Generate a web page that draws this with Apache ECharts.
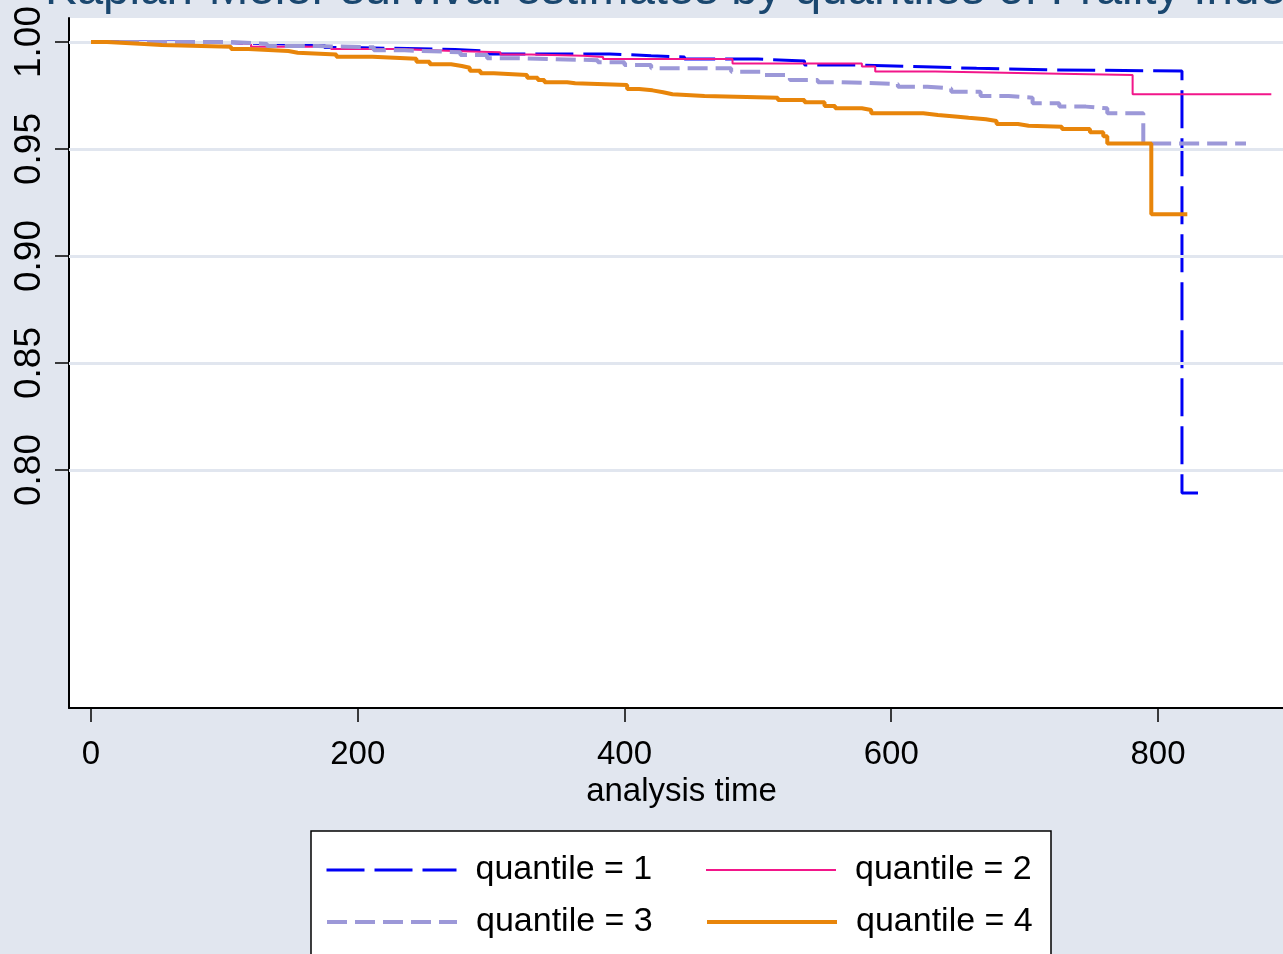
<!DOCTYPE html>
<html>
<head>
<meta charset="utf-8">
<script src="https://cdn.jsdelivr.net/npm/echarts@6.0.0/dist/echarts.min.js"></script>
<style>
  html, body { margin: 0; padding: 0; background: #e1e6ef; }
  #chart { width: 1283px; height: 954px; }
</style>
</head>
<body>
<div id="chart"></div>
<script>
// ---- Data ----
const titleText = 'Kaplan-Meier survival estimates by quantiles of Frailty Index';
const xTickValues = [0, 200, 400, 600, 800];
const yTickValues = [0.80, 0.85, 0.90, 0.95, 1.00];
const seriesNames = ['quantile = 1', 'quantile = 2', 'quantile = 3', 'quantile = 4'];

const q1Time = [0, 80, 145, 175, 195, 273, 294, 389, 420, 445, 500, 535, 574, 624, 664, 716, 818, 830];
const q1Surv = [1.0, 0.9991, 0.9986, 0.9974, 0.9965, 0.9958, 0.9944, 0.9936, 0.993, 0.992, 0.9911, 0.9893, 0.9884, 0.9877, 0.9870, 0.9864, 0.7893, 0.7893];

const q2Time = [0, 95, 120, 180, 232, 272, 307, 330, 369, 384, 481, 578, 588, 633, 705, 781, 885];
const q2Surv = [1.0, 0.9991, 0.9978, 0.9967, 0.9958, 0.9952, 0.9942, 0.9936, 0.993, 0.992, 0.990, 0.9885, 0.9862, 0.9854, 0.9846, 0.9756, 0.9756];

const q3Time = [0, 103, 132, 170, 212, 235, 277, 297, 319, 345, 380, 400, 420, 480, 503, 524, 545, 562, 605, 627, 645, 667, 688, 706, 726, 746, 762, 789, 866];
const q3Surv = [1.0, 0.9991, 0.9981, 0.9975, 0.9961, 0.9952, 0.9939, 0.9924, 0.992, 0.9915, 0.9905, 0.9893, 0.9877, 0.9861, 0.9846, 0.9822, 0.9812, 0.9804, 0.9791, 0.9783, 0.9768, 0.9748, 0.974, 0.9714, 0.9698, 0.969, 0.9667, 0.9526, 0.9526];

const q4Time = [0, 12, 40, 53, 105, 118, 148, 155, 184, 211, 244, 254, 270, 278, 284, 292, 302, 327, 335, 340, 357, 363, 402, 411, 421, 429, 436, 460, 515, 535, 550, 558, 578, 585, 624, 635, 650, 658, 671, 679, 695, 703, 728, 749, 759, 762, 795, 822];
const q4Surv = [1.0, 0.9991, 0.9986, 0.9978, 0.9967, 0.9958, 0.995, 0.9942, 0.9931, 0.9922, 0.9908, 0.9896, 0.9888, 0.988, 0.9866, 0.9854, 0.9846, 0.9833, 0.9822, 0.9812, 0.9807, 0.9799, 0.978, 0.9774, 0.9765, 0.9756, 0.9748, 0.974, 0.9729, 0.9718, 0.9701, 0.969, 0.9682, 0.9667, 0.9659, 0.9651, 0.9646, 0.9639, 0.9631, 0.9617, 0.9609, 0.9604, 0.9593, 0.9578, 0.956, 0.9526, 0.9195, 0.9195];

// ---- Build ----
function zip(t, s) { return t.map((v, i) => [v, s[i]]); }
const FONT = "'Liberation Sans', Arial, sans-serif";
const bg = '#e1e6ef';

const styles = [
  { color: '#0000f5', width: 3, type: [38, 10], dashOffset: 30 },
  { color: '#f2168a', width: 2, type: 'solid', dashOffset: 0 },
  { color: '#9c98d8', width: 4, type: [20, 8], dashOffset: 0 },
  { color: '#e8850a', width: 4, type: 'solid', dashOffset: 0 }
];
const dataSets = [zip(q1Time, q1Surv), zip(q2Time, q2Surv), zip(q3Time, q3Surv), zip(q4Time, q4Surv)];

const series = [{
  name: 'grid',
  type: 'line',
  data: [[-100, 0.5]],
  symbol: 'none',
  lineStyle: { width: 0 },
  silent: true,
  z: 1,
  markLine: {
    silent: true,
    symbol: ['none', 'none'],
    label: { show: false },
    lineStyle: { color: bg, width: 3, type: 'solid' },
    data: yTickValues.map(v => ({ yAxis: v }))
  }
}];
seriesNames.forEach((n, i) => {
  series.push({
    name: n,
    type: 'line',
    step: 'end',
    symbol: 'none',
    showSymbol: false,
    data: dataSets[i],
    z: 3 + i,
    color: styles[i].color,
    lineStyle: { color: styles[i].color, width: styles[i].width, type: styles[i].type, dashOffset: styles[i].dashOffset, cap: 'butt' }
  });
});

const legendPos = [[325, 850], [705, 850], [325, 902], [705, 902]];
const legends = seriesNames.map((n, i) => ({
  data: [n],
  left: legendPos[i][0],
  top: legendPos[i][1],
  padding: 0,
  itemWidth: 130,
  itemHeight: 14,
  selectedMode: false,
  itemStyle: { color: 'transparent', borderColor: 'transparent', borderWidth: 0, opacity: 0 },
  lineStyle: { color: styles[i].color, width: styles[i].width, type: styles[i].type, dashOffset: 0, cap: 'butt', opacity: 1 },
  textStyle: { fontFamily: FONT, fontSize: 34, color: '#000', padding: [0, 0, 0, 14], lineHeight: 40 }
}));

const chart = echarts.init(document.getElementById('chart'), null, { renderer: 'canvas' });
chart.setOption({
  animation: false,
  backgroundColor: bg,
  textStyle: { fontFamily: FONT },
  title: {
    text: titleText,
    left: 45,
    top: -33,
    padding: 0,
    textStyle: { fontFamily: FONT, fontSize: 47.5, fontWeight: 'normal', color: '#1a476f' }
  },
  graphic: [{
    type: 'rect',
    shape: { x: 311, y: 831, width: 740, height: 140 },
    style: { fill: '#ffffff', stroke: '#000000', lineWidth: 1.5 },
    z: 0
  }],
  legend: legends,
  grid: {
    left: 69, top: 18, width: 1225, height: 690,
    outerBoundsMode: 'none',
    show: true, backgroundColor: '#ffffff', borderWidth: 0, containLabel: false
  },
  xAxis: {
    type: 'value',
    min: -16.5,
    max: 902,
    name: 'analysis time',
    nameLocation: 'middle',
    nameGap: 66,
    nameTextStyle: { fontFamily: FONT, fontSize: 33, color: '#000' },
    axisLine: { onZero: false, lineStyle: { color: '#000', width: 2 } },
    axisTick: { customValues: xTickValues, length: 14, lineStyle: { color: '#000', width: 1.5 } },
    axisLabel: { customValues: xTickValues, fontFamily: FONT, fontSize: 33, color: '#000', margin: 30 },
    splitLine: { show: false }
  },
  yAxis: {
    type: 'value',
    min: 0.68879,
    max: 1.01121,
    axisLine: { onZero: false, lineStyle: { color: '#000', width: 2 } },
    axisTick: { customValues: yTickValues, length: 14, lineStyle: { color: '#000', width: 1.5 } },
    axisLabel: {
      customValues: yTickValues, rotate: 90, fontFamily: FONT, fontSize: 37, color: '#000', margin: 21,
      formatter: v => v.toFixed(2)
    },
    splitLine: { show: false }
  },
  series: series
});
</script>
</body>
</html>
